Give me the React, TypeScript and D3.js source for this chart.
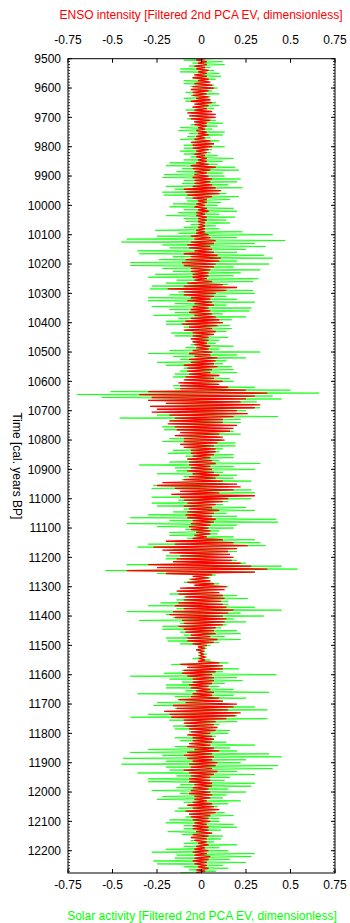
import React from "react";
import * as d3 from "d3";

// ---- data ----
const YEAR_START = 9500;
const YEAR_STEP = 5;
const YEAR_DOMAIN: [number, number] = [9500, 12276];

// Solar activity (green), one value every 5 years starting at 9500
const solar: number[] = [
  0.06,-0.1,0.12,-0.05, 0.13,-0.07,0.05,-0.12, 0.07,-0.12,0.1,-0.04, 0.11,-0.05,0.08,-0.1,
  0.04,-0.1,0.07,-0.06, 0.09,-0.04,0.06,-0.09, 0.1,-0.06,0.05,-0.1, 0.05,-0.09,0.08,-0.03,
  0.1,-0.05,0.07,-0.09, 0.04,-0.06,0.03,-0.05, 0.06,-0.08,0.08,-0.04, 0.12,-0.06,0.09,-0.12,
  0.06,-0.13,0.13,-0.07, 0.12,-0.08,0.05,-0.12, 0.1,-0.05,0.07,-0.1, 0.13,-0.1,0.06,-0.12,
  0.05,-0.1,0.09,-0.06, 0.18,-0.1,0.12,-0.18, 0.09,-0.2,0.19,-0.11, 0.21,-0.14,0.12,-0.21,
  0.13,-0.22,0.22,-0.1, 0.2,-0.11,0.15,-0.2, 0.23,-0.15,0.1,-0.22, 0.14,-0.21,0.21,-0.09,
  0.16,-0.08,0.11,-0.16, 0.09,-0.18,0.18,-0.1, 0.2,-0.13,0.1,-0.2, 0.19,-0.1,0.14,-0.09,
  0.16,-0.06,0.08,-0.1, 0.1,-0.26,0.23,-0.13, 0.4,-0.25,0.2,-0.42, 0.47,-0.45,0.3,-0.22,
  0.36,-0.18,0.25,-0.36, 0.2,-0.35,0.35,-0.16, 0.4,-0.24,0.2,-0.4, 0.38,-0.4,0.18,-0.22,
  0.33,-0.16,0.22,-0.26, 0.18,-0.3,0.32,-0.14, 0.29,-0.2,0.15,-0.28, 0.17,-0.29,0.29,-0.13,
  0.3,-0.18,0.14,-0.3, 0.2,-0.3,0.3,-0.15, 0.14,-0.28,0.28,-0.18, 0.27,-0.15,0.12,-0.27,
  0.25,-0.13,0.17,-0.2, 0.12,-0.2,0.16,-0.1, 0.17,-0.09,0.14,-0.17, 0.07,-0.15,0.15,-0.06,
  0.1,-0.05,0.08,-0.06, 0.18,-0.09,0.1,-0.18, 0.33,-0.3,0.2,-0.16, 0.25,-0.12,0.14,-0.25,
  0.12,-0.2,0.17,-0.1, 0.18,-0.12,0.2,-0.15, 0.1,-0.16,0.16,-0.09, 0.18,-0.1,0.09,-0.16,
  0.3,-0.15,0.5,-0.51, 0.66,-0.7,0.4,-0.56, 0.45,-0.3,0.31,-0.2, 0.18,-0.28,0.33,-0.16,
  0.25,-0.12,0.15,-0.25, 0.43,-0.46,0.22,-0.18, 0.22,-0.12,0.13,-0.22, 0.12,-0.21,0.18,-0.1,
  0.22,-0.13,0.1,-0.18, 0.11,-0.22,0.19,-0.12, 0.19,-0.09,0.12,-0.16, 0.1,-0.19,0.18,-0.09,
  0.18,-0.08,0.1,-0.18, 0.33,-0.35,0.18,-0.15, 0.3,-0.14,0.12,-0.25, 0.2,-0.1,0.18,-0.11,
  0.28,-0.17,0.12,-0.27, 0.15,-0.28,0.28,-0.12, 0.3,-0.14,0.18,-0.28, 0.28,-0.13,0.15,-0.28,
  0.12,-0.25,0.25,-0.1, 0.3,-0.16,0.14,-0.3, 0.2,-0.4,0.42,-0.18, 0.43,-0.42,0.2,-0.25,
  0.18,-0.09,0.1,-0.18, 0.09,-0.18,0.18,-0.08, 0.3,-0.15,0.33,-0.3, 0.36,-0.36,0.18,-0.16,
  0.2,-0.1,0.11,-0.2, 0.1,-0.2,0.2,-0.09, 0.25,-0.42,0.45,-0.2, 0.54,-0.54,0.3,-0.25,
  0.08,-0.04,0.05,-0.07, 0.05,-0.1,0.1,-0.04, 0.15,-0.08,0.09,-0.13, 0.1,-0.18,0.2,-0.1,
  0.26,-0.14,0.15,-0.23, 0.15,-0.3,0.3,-0.14, 0.45,-0.42,0.22,-0.2, 0.35,-0.16,0.18,-0.35,
  0.25,-0.12,0.14,-0.22, 0.11,-0.22,0.2,-0.12, 0.22,-0.1,0.13,-0.2, 0.22,-0.19,0.1,-0.12,
  0.05,-0.02,0.03,-0.03, 0.02,-0.02,0.03,-0.01, 0.02,-0.05,0.05,-0.02, 0.15,-0.17,0.09,-0.08,
  0.21,-0.11,0.12,-0.21, 0.42,-0.4,0.2,-0.18, 0.23,-0.11,0.13,-0.2, 0.1,-0.2,0.18,-0.09,
  0.38,-0.36,0.18,-0.15, 0.25,-0.13,0.12,-0.25, 0.14,-0.27,0.3,-0.15, 0.37,-0.16,0.2,-0.3,
  0.2,-0.4,0.37,-0.18, 0.2,-0.09,0.1,-0.16, 0.08,-0.15,0.16,-0.07, 0.15,-0.07,0.08,-0.15,
  0.07,-0.12,0.14,-0.06, 0.3,-0.15,0.16,-0.3, 0.2,-0.4,0.38,-0.22, 0.45,-0.44,0.25,-0.2,
  0.22,-0.45,0.43,-0.2, 0.4,-0.18,0.2,-0.36, 0.3,-0.14,0.16,-0.3, 0.13,-0.3,0.3,-0.12,
  0.28,-0.14,0.15,-0.28, 0.25,-0.12,0.14,-0.22, 0.12,-0.25,0.22,-0.1, 0.15,-0.07,0.09,-0.13,
  0.08,-0.15,0.13,-0.07, 0.18,-0.09,0.1,-0.18, 0.1,-0.2,0.18,-0.1, 0.2,-0.1,0.11,-0.19,
  0.06,-0.11,0.12,-0.05, 0.11,-0.06,0.07,-0.1, 0.2,-0.1,0.1,-0.2, 0.15,-0.28,0.3,-0.14,
  0.28,-0.15,0.16,-0.27, 0.25,-0.25,0.12,-0.1, 0.15,-0.07,0.08,-0.12,
];

// ENSO intensity (red), one value every 5 years starting at 9500
const enso: number[] = [
  0.02,-0.03,0.03,-0.02, 0.03,-0.04,0.02,-0.03, 0.04,-0.02,0.03,-0.04, 0.03,-0.05,0.04,-0.02,
  0.05,-0.04,0.06,-0.05, 0.07,-0.06,0.04,-0.05, 0.03,-0.05,0.04,-0.03, 0.05,-0.06,0.06,-0.04,
  0.04,-0.05,0.03,-0.04, 0.06,-0.08,0.08,-0.07, 0.08,-0.06,0.05,-0.04, 0.03,-0.04,0.03,-0.02,
  0.02,-0.03,0.03,-0.02, 0.04,-0.03,0.02,-0.04, 0.05,-0.06,0.07,-0.05, 0.06,-0.05,0.04,-0.03,
  0.03,-0.04,0.02,-0.03, 0.03,-0.02,0.03,-0.03, 0.04,-0.06,0.08,-0.05, 0.05,-0.04,0.03,-0.04,
  0.04,-0.05,0.06,-0.04, 0.05,-0.04,0.06,-0.05, 0.08,-0.1,0.11,-0.09, 0.1,-0.08,0.06,-0.05,
  0.03,-0.02,0.03,-0.03, 0.02,-0.04,0.03,-0.02, 0.04,-0.03,0.02,-0.03, 0.03,-0.02,0.03,-0.02,
  0.02,-0.01,0.02,-0.02, 0.02,-0.03,0.02,-0.03, 0.04,-0.06,0.05,-0.04, 0.08,-0.06,0.07,-0.08,
  0.05,-0.07,0.06,-0.04, 0.07,-0.1,0.09,-0.06, 0.11,-0.09,0.1,-0.11, 0.08,-0.1,0.07,-0.06,
  0.05,-0.06,0.04,-0.05, 0.04,-0.05,0.03,-0.04, 0.06,-0.08,0.12,-0.1, 0.2,-0.19,0.14,-0.1,
  0.08,-0.1,0.07,-0.06, 0.05,-0.08,0.06,-0.04, 0.07,-0.05,0.04,-0.06, 0.05,-0.07,0.06,-0.04,
  0.08,-0.06,0.1,-0.09, 0.12,-0.11,0.09,-0.07, 0.06,-0.1,0.08,-0.05, 0.07,-0.05,0.04,-0.06,
  0.04,-0.05,0.03,-0.04, 0.05,-0.03,0.04,-0.05, 0.06,-0.07,0.05,-0.04, 0.09,-0.07,0.08,-0.06,
  0.07,-0.1,0.09,-0.08, 0.06,-0.08,0.05,-0.07, 0.1,-0.09,0.07,-0.1, 0.12,-0.13,0.1,-0.12,
  0.15,-0.12,0.25,-0.3, 0.37,-0.35,0.3,-0.28, 0.25,-0.3,0.22,-0.2, 0.33,-0.29,0.3,-0.25,
  0.2,-0.28,0.26,-0.18, 0.18,-0.15,0.12,-0.18, 0.12,-0.19,0.2,-0.15, 0.18,-0.14,0.16,-0.12,
  0.1,-0.15,0.12,-0.1, 0.13,-0.1,0.09,-0.12, 0.07,-0.1,0.08,-0.06, 0.08,-0.06,0.07,-0.05,
  0.05,-0.08,0.06,-0.07, 0.08,-0.07,0.05,-0.06, 0.06,-0.08,0.07,-0.05, 0.1,-0.07,0.08,-0.1,
  0.12,-0.22,0.2,-0.25, 0.22,-0.15,0.18,-0.12, 0.1,-0.17,0.3,-0.12, 0.15,-0.1,0.12,-0.08,
  0.08,-0.1,0.06,-0.07, 0.1,-0.08,0.07,-0.09, 0.06,-0.08,0.08,-0.05, 0.07,-0.06,0.05,-0.07,
  0.04,-0.06,0.05,-0.03, 0.05,-0.04,0.03,-0.05, 0.12,-0.2,0.18,-0.15, 0.26,-0.27,0.2,-0.22,
  0.15,-0.18,0.16,-0.12, 0.18,-0.14,0.17,-0.16, 0.22,-0.3,0.28,-0.25, 0.37,-0.42,0.3,-0.2,
  0.06,-0.05,0.04,-0.06, 0.05,-0.08,0.07,-0.04, 0.14,-0.12,0.13,-0.14, 0.1,-0.13,0.12,-0.09,
  0.13,-0.1,0.11,-0.13, 0.12,-0.15,0.14,-0.1, 0.18,-0.16,0.15,-0.18, 0.12,-0.15,0.14,-0.11,
  0.13,-0.1,0.12,-0.13, 0.08,-0.1,0.07,-0.09, 0.08,-0.06,0.05,-0.08, 0.09,-0.08,0.07,-0.05,
  0.03,-0.02,0.02,-0.03, 0.01,-0.01,0.01,-0.01, 0.02,-0.01,0.02,-0.02, 0.1,-0.12,0.12,-0.08,
  0.12,-0.1,0.08,-0.11, 0.06,-0.08,0.07,-0.05, 0.07,-0.05,0.06,-0.07, 0.04,-0.06,0.05,-0.03,
  0.07,-0.05,0.06,-0.06, 0.1,-0.13,0.12,-0.09, 0.2,-0.16,0.18,-0.14, 0.15,-0.21,0.22,-0.18,
  0.19,-0.17,0.14,-0.1, 0.08,-0.1,0.07,-0.09, 0.09,-0.07,0.08,-0.06, 0.05,-0.08,0.06,-0.05,
  0.07,-0.05,0.06,-0.07, 0.05,-0.08,0.07,-0.04, 0.1,-0.08,0.06,-0.1, 0.07,-0.08,0.06,-0.05,
  0.09,-0.07,0.08,-0.06, 0.06,-0.1,0.09,-0.07, 0.07,-0.06,0.05,-0.07, 0.05,-0.07,0.06,-0.04,
  0.06,-0.05,0.04,-0.06, 0.05,-0.07,0.06,-0.04, 0.05,-0.04,0.03,-0.05, 0.06,-0.08,0.07,-0.05,
  0.1,-0.09,0.08,-0.07, 0.05,-0.06,0.04,-0.05, 0.05,-0.04,0.03,-0.05, 0.04,-0.05,0.04,-0.03,
  0.06,-0.05,0.04,-0.06, 0.03,-0.04,0.03,-0.02, 0.04,-0.03,0.02,-0.04, 0.04,-0.05,0.03,-0.04,
  0.05,-0.04,0.04,-0.05, 0.03,-0.04,0.03,-0.02, 0.04,-0.03,0.02,-0.03,
];

const xTicks = [-0.75, -0.5, -0.25, 0, 0.25, 0.5, 0.75];
const xTickLabels = ["-0.75", "-0.5", "-0.25", "0", "0.25", "0.5", "0.75"];
const yTicks = d3.range(9500, 12201, 100);
const yMinorTicks = d3.range(9500, 12276, 10);

const topTitle = "ENSO intensity [Filtered 2nd PCA EV, dimensionless]";
const bottomTitle = "Solar activity [Filtered 2nd PCA EV, dimensionless]";
const yTitle = "Time [cal. years BP]";

const W = 350;
const H = 923;
const box = { left: 68, right: 335, top: 58.7, bottom: 873 };
const FONT = "'Liberation Sans', Arial, Helvetica, sans-serif";

export default function App() {
  const x = d3.scaleLinear().domain([-0.75, 0.75]).range([box.left, box.right]);
  const y = d3.scaleLinear().domain(YEAR_DOMAIN).range([box.top, box.bottom]);

  const line = d3
    .line<number>()
    .x((d) => x(d))
    .y((_d, i) => y(YEAR_START + i * YEAR_STEP));

  const major = 4;
  const minor = 2;

  return (
    <svg
      width={W}
      height={H}
      style={{ position: "absolute", left: 0, top: 0, background: "#fff" }}
      fontFamily={FONT}
    >
      <rect x={0} y={0} width={W} height={H} fill="#fff" />
      <defs>
        <clipPath id="plotclip">
          <rect x={box.left} y={box.top} width={box.right - box.left} height={box.bottom - box.top} />
        </clipPath>
      </defs>

      <g clipPath="url(#plotclip)">
        <path d={line(solar) || ""} fill="none" stroke="#00ff00" strokeWidth={0.75} />
        <path d={line(enso) || ""} fill="none" stroke="#ff0000" strokeWidth={1.3} />
      </g>

      {/* frame */}
      <rect
        x={box.left}
        y={box.top}
        width={box.right - box.left}
        height={box.bottom - box.top}
        fill="none"
        stroke="#000"
        strokeWidth={1}
      />

      {/* x ticks top and bottom */}
      {xTicks.map((t, i) => (
        <g key={"xt" + i}>
          <line x1={x(t)} x2={x(t)} y1={box.top} y2={box.top + major} stroke="#000" />
          <line x1={x(t)} x2={x(t)} y1={box.bottom} y2={box.bottom - major} stroke="#000" />
          <text x={x(t)} y={44} fontSize={12} textAnchor="middle" fill="#000">
            {xTickLabels[i]}
          </text>
          <text x={x(t)} y={889} fontSize={12} textAnchor="middle" fill="#000">
            {xTickLabels[i]}
          </text>
        </g>
      ))}

      {/* y minor ticks */}
      {yMinorTicks.map((t) => (
        <g key={"ym" + t}>
          <line x1={box.left} x2={box.left + minor} y1={y(t)} y2={y(t)} stroke="#000" strokeWidth={0.8} />
          <line x1={box.right} x2={box.right - minor} y1={y(t)} y2={y(t)} stroke="#000" strokeWidth={0.8} />
        </g>
      ))}

      {/* y major ticks */}
      {yTicks.map((t) => (
        <g key={"yt" + t}>
          <line x1={box.left} x2={box.left + major} y1={y(t)} y2={y(t)} stroke="#000" />
          <line x1={box.right} x2={box.right - major} y1={y(t)} y2={y(t)} stroke="#000" />
          <text x={61} y={y(t) + 4.2} fontSize={12} textAnchor="end" fill="#000">
            {t}
          </text>
        </g>
      ))}

      {/* titles */}
      <text x={201} y={19} fontSize={12} textAnchor="middle" fill="#ff0000">
        {topTitle}
      </text>
      <text x={202} y={920} fontSize={12} textAnchor="middle" fill="#00ff00">
        {bottomTitle}
      </text>
      <text
        transform={`translate(13, ${(box.top + box.bottom) / 2}) rotate(90)`}
        fontSize={12}
        textAnchor="middle"
        fill="#000"
      >
        {yTitle}
      </text>
    </svg>
  );
}
